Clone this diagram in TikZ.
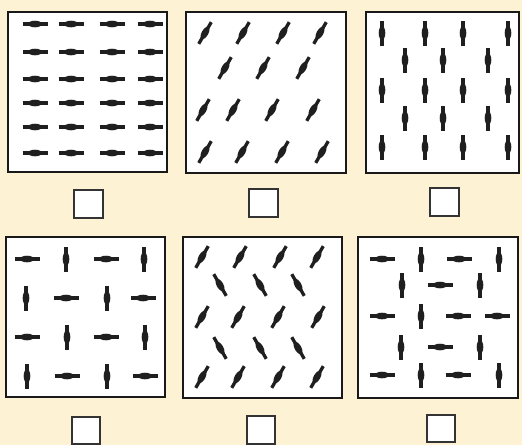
\documentclass[tikz,border=0pt]{standalone}
\usepackage{tikz}
\usetikzlibrary{positioning}
\definecolor{cream}{RGB}{253,242,212}
\tikzset{
	mol/.pic={
		\draw[line width=3.3pt, black!88] (-12.5pt,0) -- (12.5pt,0);
		\fill[black!88] (0,0) ellipse (7pt and 3.3pt);
	}
}

\begin{document}
\begin{tikzpicture}[x=1pt, y=-1pt,
				panel/.style={
					rectangle, draw=black!90, line width=1.8pt,
					fill=white, inner sep=0pt,
					minimum width=159.5pt, minimum height=160.5pt
				},
				tickbox/.style={
					rectangle, draw=black!80, line width=1.6pt,
					fill=white, inner sep=0pt,
					minimum width=28.5pt, minimum height=27.5pt
				}
				]
				
				% background
				\fill[cream] (0,0) rectangle (522,445);
				\useasboundingbox (0,0) rectangle (522,445);
				
				% panels, top row
				\node[panel] (panelA) at (87.5,92) {};
				\node[panel] (panelB) at (266,92.5) {};
				\node[panel, minimum width=153.5pt] (panelC) at (442.5,92.5) {};
				
				% panels, bottom row
				\node[panel] (panelD) at (85.5,317) {};
				\node[panel] (panelE) at (262.5,317.5) {};
				\node[panel] (panelF) at (438,317.5) {};
				
				% tick boxes
				\node[tickbox] (boxA) at (88.5,204) {};
				\node[tickbox] (boxB) at (263.5,203) {};
				\node[tickbox] (boxC) at (444.5,202) {};
				\node[tickbox] (boxD) at (86,430.5) {};
				\node[tickbox] (boxE) at (261,430) {};
				\node[tickbox] (boxF) at (441,428.5) {};
				
				% panel A: all horizontal
				\foreach \y in {24,52,79,103,127,153}
				\foreach \x in {35,71,112,150}
				\pic at (\x,\y) {mol};
				
				% panel B: tilted rows
				\foreach \x/\y in {205/33,243/33,283/33,320/33,
					225/68,263/68,303/68,
					203/110,233/110,272/110,313/110,
					205/152,242/152,282/152,322/152}
				\pic[rotate=60] at (\x,\y) {mol};
				
				% panel C: vertical, shifted rows
				\foreach \x/\y in {382/33,425/33,463/33,508/33,
					405/60,443/60,488/60,
					382/90,425/90,463/90,508/90,
					405/118,443/118,488/118,
					382/147,425/147,463/147,508/147}
				\pic[rotate=90] at (\x,\y) {mol};
				
				% panel D: crossed pattern
				\foreach \x/\y in {27/259,106/259,66/298,143/298,
					27/337,106/337,67/376,145/376}
				\pic at (\x,\y) {mol};
				\foreach \x/\y in {66/259,144/259,26/298,107/298,
					67/337,145/337,27/376,107/376}
				\pic[rotate=90] at (\x,\y) {mol};
				
				% panel E: alternating tilt
				\foreach \x/\y in {202/257,240/257,280/257,317/257,
					202/317,238/317,278/317,318/317,
					202/377,238/377,278/377,317/377}
				\pic[rotate=60] at (\x,\y) {mol};
				\foreach \x/\y in {220/285,260/285,298/285,
					220/348,260/348,298/348}
				\pic[rotate=-60] at (\x,\y) {mol};
				
				% panel F: mixed
				\foreach \x/\y in {382/259,459/259,440/285,382/316,
					458/316,497/316,440/347,382/375,458/375}
				\pic at (\x,\y) {mol};
				\foreach \x/\y in {421/259,499/259,402/285,480/285,
					421/316,401/347,480/347,421/375,499/375}
				\pic[rotate=90] at (\x,\y) {mol};
			\end{tikzpicture}
\end{document}
